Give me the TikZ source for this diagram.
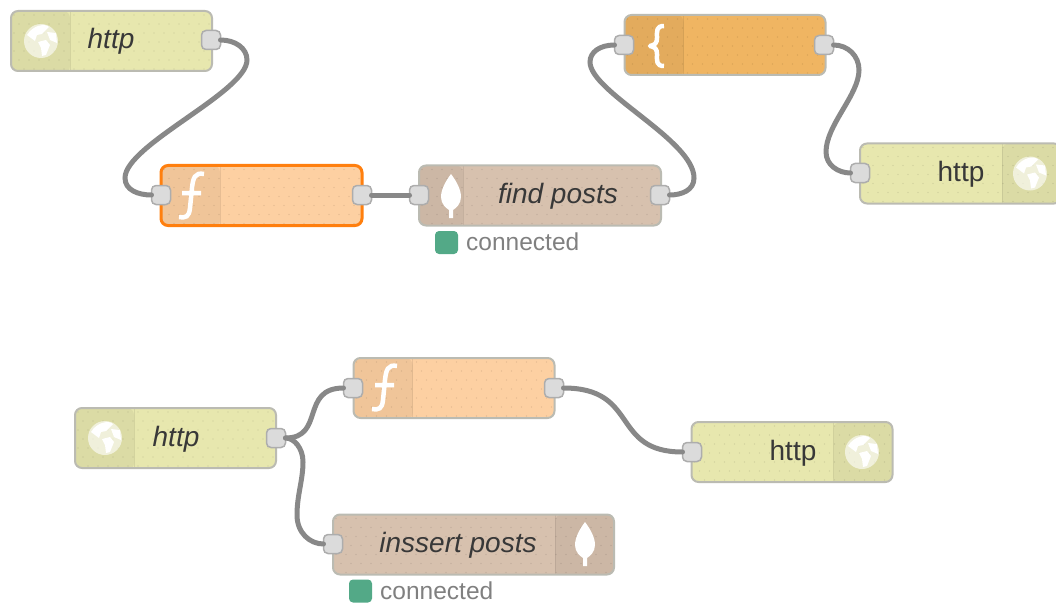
\documentclass[tikz,border=0pt]{standalone}
\usepackage{fontspec}
\setmainfont{Liberation Sans}
\definecolor{httpfill}{HTML}{E7E7AE}
\definecolor{funcfill}{HTML}{FDD0A2}
\definecolor{tmplfill}{HTML}{F0B562}
\definecolor{mongofill}{HTML}{D7C1AE}
\definecolor{wirecol}{HTML}{888888}
\definecolor{edgecol}{HTML}{BBBBB2}
\definecolor{statusgreen}{HTML}{53A987}
\definecolor{selcol}{HTML}{FF7F0E}
\tikzset{
  flowbody/.style={draw=edgecol, line width=2pt, rounded corners=7pt, inner sep=0pt, outer sep=0pt,
    minimum width=#1, minimum height=60pt},
  flowbody/.default=201pt,
  % darker strip from x=#1 to x=#2, divider at x=#3, counted from the left edge of the body
  strip/.style n args={3}{path picture={
    \foreach \i in {0,...,29}
      \foreach \j in {0,...,6}
        \fill[black, opacity=0.13] (path picture bounding box.north west) ++({10*\i+5*mod(\j,2)+3},{9*\j+4}) circle (0.7pt);
    \fill[black, opacity=0.05] (path picture bounding box.north west) ++(#1,0) rectangle ++({#2-#1},62);
    \draw[black, opacity=0.08, line width=1pt] (path picture bounding box.north west) ++(#3,0) -- ++(0,62);}},
  port/.style={draw=black!32, fill=black!14, line width=1.5pt, rounded corners=4.5pt, inner sep=0pt, outer sep=0pt,
    minimum size=19pt},
  wire/.style={draw=wirecol, line width=5pt, line cap=round},
  flowlabel/.style={font=\fontsize{28}{30}\selectfont\itshape, text=black!78, inner sep=0pt},
  outlabel/.style={font=\fontsize{28}{30}\selectfont, text=black!78, inner sep=0pt},
  statusdot/.style={fill=statusgreen, rounded corners=4pt, inner sep=0pt, minimum size=23pt},
  statustext/.style={font=\fontsize{24.5}{26}\selectfont, text=black!50, inner sep=0pt, anchor=west}
}
% icons, drawn round a given point
\newcommand{\globeicon}[1]{
  \begin{scope}[shift={#1}]
    \fill[white, opacity=0.6] (0,0) circle (17);
    \fill[white] (-14,-6) .. controls (-8,-16) and (4,-18) .. (8,-14) -- (1,-7) -- (-4,-6) -- (-6,0) -- cycle;
    \fill[white] (-3,1) -- (5,-1) -- (9,4) -- (5,14) -- (1,15) -- (0,7) -- cycle;
    \fill[white] (6,-9) -- (15,-8) -- (16,2) -- (9,-1) -- cycle;
  \end{scope}}
\newcommand{\funcicon}[1]{
  \draw[white, line width=4.5pt, shift={#1}] (13,-22) .. controls (4,-24) and (2,-18) .. (1,-8)
    -- (-1,12) .. controls (-2,21) and (-5,22) .. (-12,21) (-9,-3) -- (10,-3);}
\newcommand{\braceicon}[1]{
  \draw[white, line width=4.5pt, line join=round, shift={#1}] (9,-20) .. controls (1,-20) and (2,-15) .. (2,-8)
    .. controls (2,-3) and (0,-1) .. (-5,0) .. controls (0,1) and (2,3) .. (2,8)
    .. controls (2,15) and (1,20) .. (9,20);}
\newcommand{\leaficon}[1]{
  \fill[white, shift={#1}] (0,-22) .. controls (-6,-14) and (-10,-6) .. (-10,1)
    .. controls (-10,8) and (-5,12) .. (-2,14) -- (-2,22) -- (2,22) -- (2,14)
    .. controls (5,12) and (10,8) .. (10,1) .. controls (10,-6) and (6,-14) .. (0,-22) -- cycle;}
\begin{document}
\begin{tikzpicture}[x=1pt, y=-1pt]
  \useasboundingbox (0,0) rectangle (1056,604);
  % top flow
  \node[flowbody, fill=httpfill, strip={0}{59}{59}] (httpIn) at (111.5,41) {};
  \node[flowbody, draw=selcol, line width=3pt, fill=funcfill, strip={0}{59}{59}] (funcA) at (261.5,195.5) {};
  \node[flowbody=242pt, fill=mongofill, strip={0}{44}{44}] (findPosts) at (540,195.5) {};
  \node[flowbody, fill=tmplfill, strip={0}{59}{59}] (tmpl) at (725,45) {};
  \node[flowbody, fill=httpfill, strip={142}{202}{142}] (httpOut) at (960.5,173.5) {};
  % bottom flow
  \node[flowbody, fill=httpfill, strip={0}{59}{59}] (httpInB) at (175.5,438) {};
  \node[flowbody, fill=funcfill, strip={0}{59}{59}] (funcB) at (454,388) {};
  \node[flowbody, fill=httpfill, strip={142}{202}{142}] (httpOutB) at (792,452) {};
  \node[flowbody=281pt, fill=mongofill, strip={222}{282}{222}] (insPosts) at (473.5,544.5) {};
  % icons
  \globeicon{(41,41)}
  \globeicon{(105,438)}
  \globeicon{(1030,173.5)}
  \globeicon{(862,452)}
  \funcicon{(191,196)}
  \funcicon{(384,388)}
  \braceicon{(655,46)}
  \leaficon{(451,196)}
  \leaficon{(585,544)}
  % labels
  \node[flowlabel] (lblHttp) at (111,41) {http};
  \node[flowlabel] (lblFind) at (558,196) {find posts};
  \node[outlabel] (lblOut) at (961,174) {http};
  \node[flowlabel] (lblHttpB) at (176,439) {http};
  \node[outlabel] (lblOutB) at (793,453) {http};
  \node[flowlabel] (lblIns) at (458,545) {inssert posts};
  \node[statusdot] (dotA) at (446.5,242.5) {};
  \node[statustext] (statA) at (466,242) {connected};
  \node[statusdot] (dotB) at (360.5,591) {};
  \node[statustext] (statB) at (380,591) {connected};
  % ports
  \node[port] (p1) at (211,40) {};
  \node[port] (p2) at (161,195) {};
  \node[port] (p3) at (362,195) {};
  \node[port] (p4) at (419,195) {};
  \node[port] (p5) at (660,195) {};
  \node[port] (p6) at (624,45) {};
  \node[port] (p7) at (824,45) {};
  \node[port] (p8) at (860,173) {};
  \node[port] (p9) at (276,438) {};
  \node[port] (p10) at (353,388) {};
  \node[port] (p11) at (554,388) {};
  \node[port] (p12) at (692,452) {};
  \node[port] (p13) at (333,544) {};
  % wires
  \draw[wire] (p1.east) .. controls (235,40) and (247,48) .. (247,60)
    .. controls (247,92) and (125,145) .. (125,178) .. controls (125,190) and (138,195) .. (p2.west);
  \draw[wire] (p3.east) -- (p4.west);
  \draw[wire] (p5.east) .. controls (682,195) and (694,190) .. (694,178)
    .. controls (694,140) and (590,92) .. (590,62) .. controls (590,52) and (600,45) .. (p6.west);
  \draw[wire] (p7.east) .. controls (848,45) and (859,56) .. (859,70)
    .. controls (859,95) and (826,125) .. (826,152) .. controls (826,165) and (838,173) .. (p8.west);
  \draw[wire] (p9.east) .. controls (325,438) and (300,388) .. (p10.west);
  \draw[wire] (p9.east) .. controls (294,438) and (303,448) .. (303,462)
    .. controls (303,480) and (297,495) .. (297,515) .. controls (297,533) and (310,544) .. (p13.west);
  \draw[wire] (p11.east) .. controls (640,388) and (610,452) .. (p12.west);
\end{tikzpicture}
\end{document}
